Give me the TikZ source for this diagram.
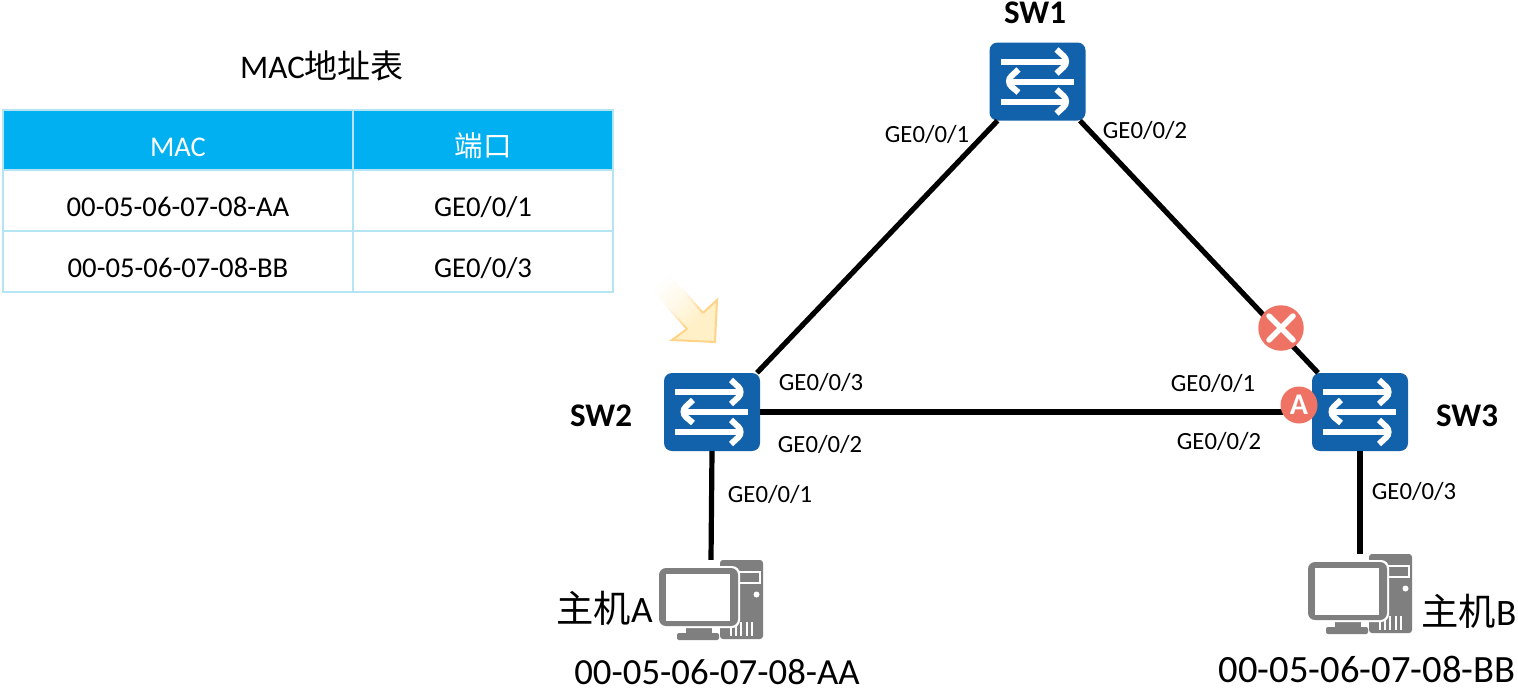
\documentclass[tikz,border=0pt]{standalone}
\usepackage{fontspec}
\setmainfont{Carlito}
\newfontfamily\cjk{Noto Sans CJK SC}
\usetikzlibrary{calc}
\definecolor{swblue}{HTML}{1261AB}
\definecolor{hdr}{HTML}{00B0F0}
\definecolor{tline}{HTML}{B5E5F5}
\definecolor{badge}{HTML}{EE7364}
\definecolor{hgray}{HTML}{7F7F7F}
\definecolor{arrowfill}{HTML}{FFF0C8}
\definecolor{arrowline}{HTML}{FFD488}
\newcommand{\fs}[1]{\fontsize{#1}{#1}\selectfont}
\tikzset{
  link/.style={line width=5.2pt,black},
  lab/.style={inner sep=0pt,font=\fs{24.7}},
  swname/.style={inner sep=0pt,font=\fs{33}\bfseries},
  big/.style={inner sep=0pt,font=\fs{36.8}},
  hdrcell/.style={draw=tline,line width=2pt,fill=hdr,text=white,inner sep=0pt,font=\fs{28.5},text height=32pt,text depth=0pt},
  cell/.style={draw=tline,line width=2pt,fill=white,text=black,inner sep=0pt,font=\fs{28.7},text height=31pt,text depth=0pt},
  swarrow/.style={white,line width=6pt},
  switch/.style={rectangle,rounded corners=8pt,fill=swblue,minimum width=96pt,minimum height=78pt,inner sep=0pt,
    path picture={
      \begin{scope}[shift={(path picture bounding box.center)}]
        \draw[swarrow] (-37,-20) -- (30,-20);
        \draw[swarrow,line join=miter] (19,-32) -- (32,-20) -- (19,-8);
        \draw[swarrow] (36,0) -- (-30,0);
        \draw[swarrow,line join=miter] (-19,-12) -- (-32,0) -- (-19,11);
        \draw[swarrow] (-37,20) -- (30,20);
        \draw[swarrow,line join=miter] (19,8) -- (32,20) -- (19,32);
      \end{scope}
    }},
  host/.style={rectangle,minimum width=104pt,minimum height=80pt,inner sep=0pt,
    path picture={
      \begin{scope}[shift={(path picture bounding box.center)}]
        \fill[hgray,rounded corners=3pt] (9,-40) rectangle (52,39);
        \draw[white,line width=1.6pt] (28,-28) rectangle (49,-17);
        \fill[white] (45.5,-5.5) circle (3);
        \foreach \vx in {20,25,30,36,41}
          \draw[white,line width=2pt] (\vx,22) -- (\vx,36);
        \fill[hgray,rounded corners=2pt] (-34,33) rectangle (8,40);
        \fill[hgray] (-25,24) rectangle (1,33);
        \fill[white,rounded corners=8pt] (-54,-34) rectangle (29,28);
        \fill[hgray,rounded corners=7pt] (-52,-32) rectangle (27,26);
        \fill[white] (-45,-26) rectangle (19,21);
      \end{scope}
    }},
  badgex/.style={circle,fill=badge,minimum size=45.5pt,inner sep=0pt,
    path picture={
      \begin{scope}[shift={(path picture bounding box.center)}]
        \draw[white,line width=5.5pt,line cap=round] (-12,-12) -- (12,12);
        \draw[white,line width=5.5pt,line cap=round] (-12,12) -- (12,-12);
      \end{scope}
    }},
  badgea/.style={circle,fill=badge,minimum size=37pt,inner sep=0pt,text=white,font=\fs{30}\bfseries},
}
\begin{document}
\begin{tikzpicture}[x=1pt,y=-1pt]
\useasboundingbox (0,0) rectangle (1518,689);
\fill[white] (0,0) rectangle (1518,689);

% table
\node[big,font=\fs{33}] (title) at (322,66) {MAC{\cjk 地址表}};
\node[hdrcell,minimum width=350pt,minimum height=60pt] (h1) at (178,140) {MAC};
\node[hdrcell,minimum width=260pt,minimum height=60pt] (h2) at (483,140) {{\cjk 端口}};
\node[cell,minimum width=350pt,minimum height=61pt] (a1) at (178,200.5) {00-05-06-07-08-AA};
\node[cell,minimum width=260pt,minimum height=61pt] (a2) at (483,200.5) {GE0/0/1};
\node[cell,minimum width=350pt,minimum height=61pt] (b1) at (178,261.5) {00-05-06-07-08-BB};
\node[cell,minimum width=260pt,minimum height=61pt] (b2) at (483,261.5) {GE0/0/3};

% devices
\node[switch] (sw1) at (1037.5,81.5) {};
\node[switch] (sw2) at (712,412) {};
\node[switch] (sw3) at (1360,412) {};
\node[host] (hosta) at (711,600) {};
\node[host] (hostb) at (1360,594) {};

% links
\draw[link] ([xshift=-40pt]sw1.south) -- ([xshift=45pt]sw2.north);
\draw[link] ([xshift=42.5pt]sw1.south) -- ([xshift=-42pt]sw3.north);
\draw[link] (sw2.east) -- (sw3.west);
\draw[link] (sw2.south) -- (hosta.north);
\draw[link] (sw3.south) -- (hostb.north);

% badges
\node[badgex] (xmark) at (1281,328) {};
\node[badgea] (amark) at (1299,405) {A};

% names
\node[swname] (n1) at (1035,13) {SW1};
\node[swname] (n2) at (601,416) {SW2};
\node[swname] (n3) at (1467,416) {SW3};

% port labels
\node[lab] (l1) at (927,134) {GE0/0/1};
\node[lab] (l2) at (1145,130) {GE0/0/2};
\node[lab] (l3) at (821,382) {GE0/0/3};
\node[lab] (l4) at (820,444) {GE0/0/2};
\node[lab] (l5) at (1213,383) {GE0/0/1};
\node[lab] (l6) at (1219,441) {GE0/0/2};
\node[lab] (l7) at (770,494) {GE0/0/1};
\node[lab] (l8) at (1414,491) {GE0/0/3};

% hosts text
\node[big,font=\fs{37.3}] (ta) at (604.5,608) {{\cjk 主机}A};
\node[big,font=\fs{37.3}] (tb) at (1469,611) {{\cjk 主机}B};
\node[big] (ma) at (717,672) {00-05-06-07-08-AA};
\node[big,font=\fs{38.6}] (mb) at (1367,669) {00-05-06-07-08-BB};

% highlight arrow: shaft in stepped tints, fading to white at the tail
\coordinate (t1) at (667,272);
\coordinate (t2) at (650,287);
\coordinate (p1) at (703,313);
\coordinate (p2) at (717,300);
\coordinate (p3) at (715,342);
\coordinate (p4) at (672,340);
\coordinate (p5) at (687,329);
\foreach \t in {1,2,...,19}{
  \pgfmathsetmacro{\ta}{\t/20}
  \pgfmathsetmacro{\tb}{(\t+1.15)/20}
  \pgfmathsetmacro{\mixp}{100*(\t/20)^1.3}
  \fill[arrowfill!\mixp!white] ($(t1)!\ta!(p1)$) -- ($(t1)!\tb!(p1)$) -- ($(t2)!\tb!(p5)$) -- ($(t2)!\ta!(p5)$) -- cycle;
}
\fill[arrowfill] (p1) -- (p2) -- (p3) -- (p4) -- (p5) -- cycle;
\draw[arrowline,line width=2pt,line join=miter] (p1) -- (p2) -- (p3) -- (p4) -- (p5);
\foreach \t in {4,5,...,11}{
  \pgfmathsetmacro{\ta}{\t/12}
  \pgfmathsetmacro{\tb}{(\t+1)/12}
  \pgfmathsetmacro{\mixp}{100*((\t-3)/8)^1.5}
  \draw[arrowline!\mixp!white,line width=2pt] ($(t1)!\ta!(p1)$) -- ($(t1)!\tb!(p1)$);
  \draw[arrowline!\mixp!white,line width=2pt] ($(t2)!\ta!(p5)$) -- ($(t2)!\tb!(p5)$);
}
\end{tikzpicture}
\end{document}
